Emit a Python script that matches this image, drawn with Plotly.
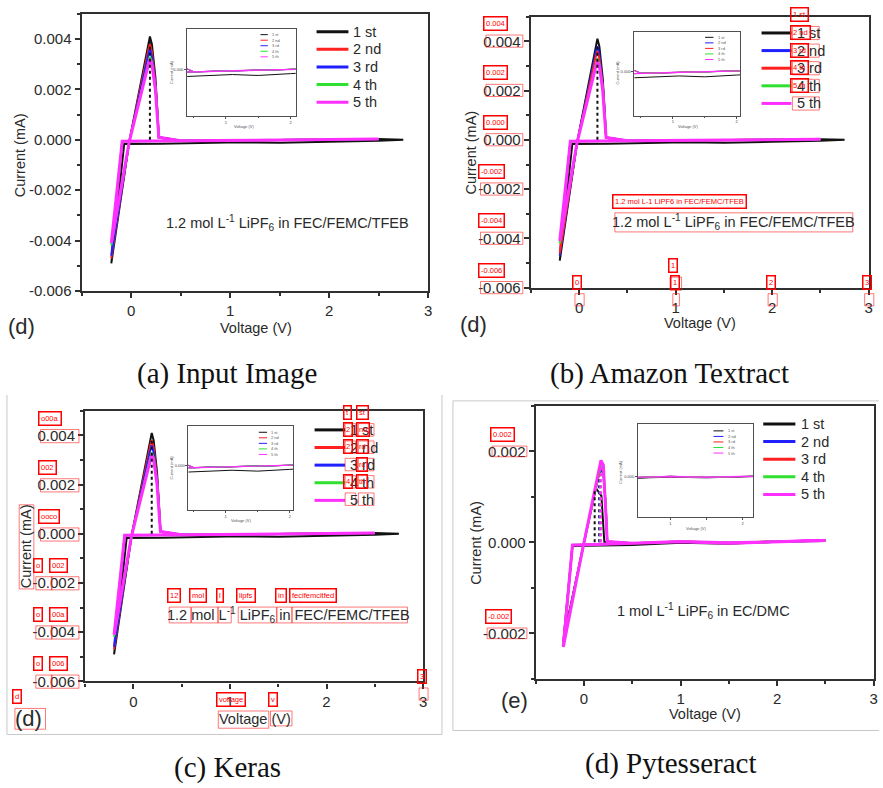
import plotly.graph_objects as go

W, H = 883, 788
SANS = "Liberation Sans, Arial, sans-serif"
SERIF = "Liberation Serif, Times New Roman, serif"
INK = "#2a2a2a"
AXIS = "#303030"
OCR_RED = "#ff0000"

BLACK, RED, BLUE, GREEN, MAGENTA = "#111111", "#ff2020", "#2020ff", "#30e030", "#ff30ff"

# ---------------- data ----------------
CYCLE_NAMES = ["1 st", "2 nd", "3 rd", "4 th", "5 th"]

# 1.2 mol/L LiPF6 in FEC/FEMC/TFEB : voltage (V) and current (mA) per cycle
V_FEC_1ST = [2.75, 2.5, 2.0, 1.5, 1.1, 0.7, 0.3, -0.07, -0.2, -0.02, 0.175, 0.19, 0.21,
             0.245, 0.265, 0.28, 0.5, 1.0, 1.5, 2.0, 2.5, 2.75]
I_FEC_1ST = [0.0, -0.00004, -0.00008, -0.00012, -0.0001, -0.00014, -0.00016, -0.00017, -0.0049,
             -0.0001, 0.0039, 0.0041, 0.0038, 0.0025, 0.0012, 0.0001, -0.00004, -0.00002, 0.0,
             0.00002, 0.00003, 0.0]
V_FEC_LATER = [2.5, 2.0, 1.5, 1.1, 0.7, 0.3, -0.09, -0.2, -0.02, 0.175, 0.19, 0.21, 0.245,
               0.265, 0.28, 0.5, 1.0, 1.5, 2.0, 2.5]
I_FEC_2ND = [0.00003, 0.00001, -0.00001, -0.00003, -0.00004, -0.00005, -0.00006, -0.0047, -0.0001,
             0.0036, 0.0038, 0.0035, 0.0023, 0.0011, 0.0001, -0.00004, -0.00002, 0.0, 0.00002, 0.00003]
I_FEC_3RD = [0.00003, 0.00001, -0.00001, -0.00003, -0.00004, -0.00005, -0.00006, -0.0046, -0.0001,
             0.0034, 0.0036, 0.0033, 0.0022, 0.0010, 0.0001, -0.00004, -0.00002, 0.0, 0.00002, 0.00003]
I_FEC_4TH = [0.00003, 0.00001, -0.00001, -0.00003, -0.00004, -0.00005, -0.00006, -0.0042, -0.0001,
             0.0031, 0.0033, 0.0031, 0.0021, 0.0010, 0.0001, -0.00004, -0.00002, 0.0, 0.00002, 0.00003]
I_FEC_5TH = [0.00003, 0.00001, -0.00001, -0.00003, -0.00004, -0.00005, -0.00006, -0.0041, -0.0001,
             0.0030, 0.0032, 0.0030, 0.0020, 0.0009, 0.0001, -0.00004, -0.00002, 0.0, 0.00002, 0.00003]
FEC_V = [V_FEC_1ST, V_FEC_LATER, V_FEC_LATER, V_FEC_LATER, V_FEC_LATER]
FEC_I = [I_FEC_1ST, I_FEC_2ND, I_FEC_3RD, I_FEC_4TH, I_FEC_5TH]
FEC_PEAK_V = [0.19]
FEC_PEAK_I = [0.0039]

# 1 mol/L LiPF6 in EC/DMC
V_EC_1ST = [2.5, 2.0, 1.5, 1.0, 0.5, 0.1, -0.12, -0.2, 0.0, 0.12, 0.18, 0.2, 0.21,
            0.5, 1.0, 1.5, 2.0, 2.5]
I_EC_1ST = [0.00003, 0.00001, -0.00003, -0.00001, -0.00006, -0.00007, -0.00008, -0.0020, -0.00002,
            0.0012, 0.00102, 0.0003, 0.00001, -0.00004, 0.00001, -0.00002, 0.00002, 0.00004]
V_EC_LATER = [2.5, 2.0, 1.5, 1.0, 0.5, 0.1, -0.12, -0.215, 0.0, 0.15, 0.175, 0.2, 0.225, 0.24,
              0.5, 1.0, 1.5, 2.0, 2.5]
I_EC_2ND = [0.00004, 0.00001, -0.00002, 0.00001, -0.00003, -0.00005, -0.00006, -0.0022, 0.0,
            0.00145, 0.0016, 0.0015, 0.0008, 0.00002, -0.00002, 0.00002, -0.00001, 0.00002, 0.00004]
I_EC_3RD = [0.00004, 0.00001, -0.00002, 0.00001, -0.00003, -0.00005, -0.00006, -0.0022, 0.0,
            0.0015, 0.0017, 0.0016, 0.0008, 0.00002, -0.00002, 0.00002, -0.00001, 0.00002, 0.00004]
I_EC_4TH = [0.00004, 0.00001, -0.00002, 0.00001, -0.00003, -0.00005, -0.00006, -0.0023, 0.0,
            0.0015, 0.0017, 0.0016, 0.0008, 0.00002, -0.00002, 0.00002, -0.00001, 0.00002, 0.00004]
I_EC_5TH = [0.00004, 0.00001, -0.00002, 0.00001, -0.00003, -0.00005, -0.00006, -0.0023, 0.0,
            0.0015, 0.0018, 0.0017, 0.0008, 0.00002, -0.00002, 0.00002, -0.00001, 0.00002, 0.00004]
EC_V = [V_EC_1ST, V_EC_LATER, V_EC_LATER, V_EC_LATER, V_EC_LATER]
EC_I = [I_EC_1ST, I_EC_2ND, I_EC_3RD, I_EC_4TH, I_EC_5TH]
EC_PEAK_V = [0.11, 0.155, 0.165, 0.17, 0.175]
EC_PEAK_I = [0.00115, 0.00145, 0.0016, 0.0016, 0.0017]

X_RANGE = [-0.5, 3.0]
X_TICKS = [0, 1, 2, 3]
Y_TICKS_FEC = [-0.006, -0.004, -0.002, 0.0, 0.002, 0.004]
Y_TEXT_FEC = ["-0.006", "-0.004", "-0.002", "0.000", "0.002", "0.004"]
Y_TICKS_EC = [-0.002, 0.0, 0.002]
Y_TEXT_EC = ["-0.002", "0.000", "0.002"]
INSET_X_TICKS = [1, 2]
INSET_Y_TICKS = [0.0]
INSET_Y_TEXT = ["0.000"]

NOTE_FEC = "1.2 mol L<sup>-1</sup> LiPF<sub>6</sub> in FEC/FEMC/TFEB"
NOTE_EC = "1 mol L<sup>-1</sup> LiPF<sub>6</sub> in EC/DMC"

# text returned by the recognisers
TEXTRACT_NOTE = "1.2 mol L-1 LiPF6 in FEC/FEMC/TFEB"
KERAS_Y_POS = {0.0: "ooco", 0.002: "002", 0.004: "o00a"}
KERAS_Y_NEG = {-0.002: ("o", "002"), -0.004: ("o", "00a"), -0.006: ("o", "006")}
KERAS_NOTE = ["12", "mol", "l", "lipfs", "in", "fecifemcitfed"]
KERAS_LEGEND = [("t", "st"), ("2", "nd"), ("2", "rd"), (None, "rc"), ("4", "th")]
PYTESS_Y = {0.002: "0.002", -0.002: "-0.002"}

# ---------------- helpers ----------------
fig = go.Figure()
shapes, annots, layout = [], [], {}


def fx(x):
    return x / W


def fy(y):
    return 1 - y / H


def xk(k):
    return "xaxis" if k == 1 else f"xaxis{k}"


def yk(k):
    return "yaxis" if k == 1 else f"yaxis{k}"


def xr(k):
    return "x" if k == 1 else f"x{k}"


def yr(k):
    return "y" if k == 1 else f"y{k}"


def text(x, y, s, size, color=INK, family=SANS, angle=0, xanchor="center", yanchor="middle"):
    annots.append(dict(x=fx(x), y=fy(y), xref="paper", yref="paper", text=s, showarrow=False,
                       font=dict(family=family, size=size, color=color), textangle=angle,
                       xanchor=xanchor, yanchor=yanchor))


def hline(x0, x1, y, color, width):
    shapes.append(dict(type="line", xref="paper", yref="paper", x0=fx(x0), x1=fx(x1),
                       y0=fy(y), y1=fy(y), line=dict(color=color, width=width), layer="above"))


def vline(x, y0, y1, color, width):
    shapes.append(dict(type="line", xref="paper", yref="paper", x0=fx(x), x1=fx(x),
                       y0=fy(y0), y1=fy(y1), line=dict(color=color, width=width), layer="above"))


def ocr(x0, y0, x1, y1, label=None):
    """Detection box plus the recognised string tagged just above it."""
    shapes.append(dict(type="rect", xref="paper", yref="paper", x0=fx(x0), x1=fx(x1),
                       y0=fy(y1), y1=fy(y0), layer="above",
                       line=dict(color="rgba(255,30,30,0.6)", width=1)))
    if label:
        annots.append(dict(x=fx(x0 - 2.5), y=fy(y0 - 4), xref="paper", yref="paper",
                           xanchor="left", yanchor="bottom", text=label, showarrow=False,
                           font=dict(family=SANS, size=7.5, color=OCR_RED),
                           bordercolor=OCR_RED, borderwidth=1.5, borderpad=1.5))


def legend(x0, x1, tx, row0, gap, colors, size, lw, color=INK):
    for i, (name, c) in enumerate(zip(CYCLE_NAMES, colors)):
        y = row0 + i * gap
        hline(x0, x1, y, c, lw)
        text(tx, y, name, size, color=color, xanchor="left")


class Panel:
    def __init__(self, k, xpx, ypx, yrange):
        self.k, self.xpx, self.ypx, self.yrange = k, xpx, ypx, yrange

    def px(self, v):
        a, b = self.xpx
        return a + (v - X_RANGE[0]) / (X_RANGE[1] - X_RANGE[0]) * (b - a)

    def py(self, v):
        t, b = self.ypx
        lo, hi = self.yrange
        return t + (hi - v) / (hi - lo) * (b - t)


def main_axes(p, ytv, ytt):
    common = dict(showgrid=False, zeroline=False, showline=True, linecolor=AXIS, linewidth=2.2,
                  mirror=True, ticks="outside", ticklen=5, tickwidth=1.5, tickcolor=AXIS,
                  tickfont=dict(family=SANS, size=15, color=INK), fixedrange=True)
    layout[xk(p.k)] = dict(common, domain=[fx(p.xpx[0]), fx(p.xpx[1])], range=X_RANGE,
                           anchor=yr(p.k), tickvals=X_TICKS, ticktext=[str(v) for v in X_TICKS],
                           minor=dict(dtick=0.5, tick0=0, ticks="outside", ticklen=3,
                                      tickwidth=1.5, tickcolor=AXIS))
    layout[yk(p.k)] = dict(common, domain=[fy(p.ypx[1]), fy(p.ypx[0])], range=list(p.yrange),
                           anchor=xr(p.k), tickvals=ytv, ticktext=ytt,
                           minor=dict(dtick=0.001, tick0=0, ticks="outside", ticklen=3,
                                      tickwidth=1.5, tickcolor=AXIS))


def inset_axes(k, xpx, ypx, xrange_, yrange_):
    common = dict(showgrid=False, zeroline=False, showline=True, linecolor="#505050", linewidth=1,
                  mirror=True, ticks="outside", ticklen=2, tickwidth=0.6, tickcolor="#505050",
                  tickfont=dict(family=SANS, size=4, color="#444"), fixedrange=True)
    layout[xk(k)] = dict(common, domain=[fx(xpx[0]), fx(xpx[1])], range=list(xrange_),
                         anchor=yr(k), tickvals=INSET_X_TICKS, ticktext=[str(v) for v in INSET_X_TICKS],
                         minor=dict(dtick=0.5, tick0=0, ticks="outside", ticklen=1.5,
                                    tickwidth=0.6, tickcolor="#505050"))
    layout[yk(k)] = dict(common, domain=[fy(ypx[1]), fy(ypx[0])], range=list(yrange_),
                         anchor=xr(k), tickvals=INSET_Y_TICKS, ticktext=INSET_Y_TEXT)


def curves(k, vs, cs, colors, widths):
    for v, c, col, w in zip(vs, cs, colors, widths):
        fig.add_trace(go.Scatter(x=v, y=c, mode="lines", line=dict(color=col, width=w),
                                 xaxis=xr(k), yaxis=yr(k), showlegend=False, hoverinfo="skip"))


def peaks(k, pv, pi, colors):
    for v, c, col in zip(pv, pi, colors):
        fig.add_trace(go.Scatter(x=[v, v], y=[0, c], mode="lines",
                                 line=dict(color=col, width=2, dash="dot"),
                                 xaxis=xr(k), yaxis=yr(k), showlegend=False, hoverinfo="skip"))


COLORS_A = [BLACK, RED, BLUE, GREEN, MAGENTA]
COLORS_B = [BLACK, BLUE, RED, GREEN, MAGENTA]
MAIN_W = [2, 2, 2, 2, 3]
INSET_W = [1, 1, 1, 1, 1.2]

# ---------------- panels ----------------
PA = Panel(1, (82, 430), (14, 294), (-0.006, 0.005))
PB = Panel(2, (533.2, 872.7), (16.8, 290.7), (-0.006, 0.005))
PC = Panel(3, (85.5, 425), (415.1, 688.4), (-0.006, 0.005))
PD = Panel(4, (538.2, 877.7), (410, 685.7), (-0.003, 0.003))

for p, cols in ((PA, COLORS_A), (PB, COLORS_B), (PC, COLORS_A)):
    main_axes(p, Y_TICKS_FEC, Y_TEXT_FEC)
    curves(p.k, FEC_V, FEC_I, cols, MAIN_W)
    peaks(p.k, FEC_PEAK_V, FEC_PEAK_I, [BLACK])
main_axes(PD, Y_TICKS_EC, Y_TEXT_EC)
curves(4, EC_V, EC_I, COLORS_B, MAIN_W)
peaks(4, EC_PEAK_V, EC_PEAK_I, [BLACK, BLUE, RED, GREEN, MAGENTA])

# insets: close-up of the flat part of the sweeps
INSETS = [
    (5, (188, 297), (29, 117), (0.4, 2.08), (-0.001, 0.0009), FEC_V, FEC_I, COLORS_A),
    (6, (637.3, 743.3), (32.3, 116.7), (0.4, 2.05), (-0.001, 0.0009), FEC_V, FEC_I, COLORS_B),
    (7, (189.3, 294.3), (430.7, 515), (0.42, 2.05), (-0.001, 0.0009), FEC_V, FEC_I, COLORS_A),
    (8, (641, 756.7), (428.3, 522.7), (0.556, 2.147), (-0.0013, 0.0017), EC_V, EC_I, COLORS_B),
]
for k, xp, yp, xrg, yrg, vs, cs, cols in INSETS:
    inset_axes(k, xp, yp, xrg, yrg)
    curves(k, vs, cs, cols, INSET_W)

# inset labels and legends
for (ylab_x, ylab_y, xlab_x, xlab_y, lx0, lx1, ltx, lrow0, cols) in (
        (171.7, 73, 245, 127.3, 261.7, 269, 271.5, 35, COLORS_A),
        (620.7, 73.3, 690.7, 127.3, 708.3, 716.7, 719.3, 37.7, COLORS_B),
        (172.7, 472.3, 242.3, 525.7, 260, 268.3, 270.7, 436.7, COLORS_A),
        (624, 476.7, 699.3, 534.3, 716.7, 726.7, 729.5, 435.3, COLORS_B)):
    text(ylab_x, ylab_y, "Current (mA)", 4, color="#555", angle=-90)
    text(xlab_x, xlab_y, "Voltage (V)", 4, color="#555")
    legend(lx0, lx1, ltx, lrow0, 5.6, cols, 4, 1, color="#555")

# main labels, legends and notes
for (cx, cy, vx, vy, tagx, tagy, tag, nx, ny, note, lx0, lx1, ltx, lrow0, cols) in (
        (21, 157, 257, 331, 22, 330, "(d)", 289, 225, NOTE_FEC, 318, 350, 353, 32, COLORS_A),
        (473.3, 154, 703, 326, 475.8, 327.5, "(d)", 737.2, 224, NOTE_FEC, 765, 795, 799, 33.3, COLORS_B),
        (27, 552, 256, 726.5, 29, 726, "(d)", 289.7, 621.7, NOTE_FEC, 316, 346.7, 350, 434.3, COLORS_A),
        (478.3, 548.3, 708.3, 721.7, 516.7, 707.5, "(e)", 706.7, 617.3, NOTE_EC, 766.7, 799, 803, 428.3, COLORS_B)):
    text(cx, cy, "Current (mA)", 14.5, angle=-90)
    text(vx, vy, "Voltage (V)", 14.5)
    text(tagx, tagy, tag, 22)
    text(nx, ny, note, 14.5)
    legend(lx0, lx1, ltx, lrow0, 17.8, cols, 14.5, 3)

# ---------------- recogniser overlays ----------------
# Amazon Textract
L, B = PB.xpx[0], PB.ypx[1]
for v, t in zip(Y_TICKS_FEC, Y_TEXT_FEC):
    yc = PB.py(v)
    w = 42.5 if t.startswith("-") else 37
    ocr(L - 8 - w, yc - 6.3, L - 8, yc + 6, t)
for v in X_TICKS:
    xc = PB.px(v)
    half = 3.3 if v == 1 else 4.6
    ocr(xc - half + 0.5, B + 6, xc + half + 0.5, B + 18.3, str(v))
xc = PB.px(1)
ocr(xc - 5.6, B - 10.7, xc + 6, B + 2.6, "1")
for i, name in enumerate(CYCLE_NAMES):
    r = 33.3 + i * 17.8
    ocr(799 - 3, r - 6.6, 799 + 24, r + 6.7, name)
ocr(737.2 - 119.5, 224 - 9, 737.2 + 119.5, 224 + 10.3, TEXTRACT_NOTE)

# Keras
L, B = PC.xpx[0], PC.ypx[1]
for v, lab in KERAS_Y_POS.items():
    yc = PC.py(v)
    ocr(L - 44.8, yc - 6, L - 6.2, yc + 7.3, lab)
for v, (lab1, lab2) in KERAS_Y_NEG.items():
    yc = PC.py(v)
    ocr(L - 49.5, yc - 6.4, L - 33.2, yc + 6.9, lab1)
    ocr(L - 33.8, yc - 6.4, L - 6.2, yc + 6.9, lab2)
xc = PC.px(3)
ocr(xc - 4, B + 6.6, xc + 5, B + 19, "3")
ocr(19.3, 510, 34, 595)
ocr(15, 715.7, 45.7, 736.7, "d")
ocr(219.3, 718.3, 270, 735.7, "voltage")
ocr(271.7, 718.3, 293.3, 733.3, "v")
for (x0, x1), lab in zip([(170, 191.7), (192.3, 219), (219, 232.3), (239.3, 277.7),
                          (278.3, 293.3), (293.3, 409.3)], KERAS_NOTE):
    ocr(x0, 613.3, x1, 629.3, lab)
for i, (lab1, lab2) in enumerate(KERAS_LEGEND):
    r = 434.3 + i * 17.5
    ocr(346.7, r - 6.3, 357.3, r + 6.3, lab1)
    ocr(360, r - 6.3, 375.7, r + 6.3, lab2)

# Pytesseract
L = PD.xpx[0]
for v, lab in PYTESS_Y.items():
    yc = PD.py(v)
    w = 40 if lab.startswith("-") else 35
    ocr(L - 8.9 - w, yc - 5.3, L - 8.9, yc + 5.5, lab)

# frames of the lower screenshots
FRAME = "#c8c8c8"
vline(7, 399, 742, FRAME, 1)
vline(444, 399, 742, FRAME, 1)
hline(7, 444, 742, FRAME, 1)
hline(455, 883, 405, FRAME, 1)
vline(455, 405, 738, FRAME, 1)
hline(455, 883, 738, FRAME, 1)

# captions
for x, y, s in ((228, 377, "(a) Input Image"), (673, 377, "(b) Amazon Textract"),
                (229, 775, "(c) Keras"), (674, 771, "(d) Pytesseract")):
    text(x, y, s, 29, color="#111", family=SERIF)

fig.update_layout(width=W, height=H, margin=dict(l=0, r=0, t=0, b=0),
                  paper_bgcolor="white", plot_bgcolor="white", showlegend=False,
                  shapes=shapes, annotations=annots, **layout)
fig.write_html("out.html")
